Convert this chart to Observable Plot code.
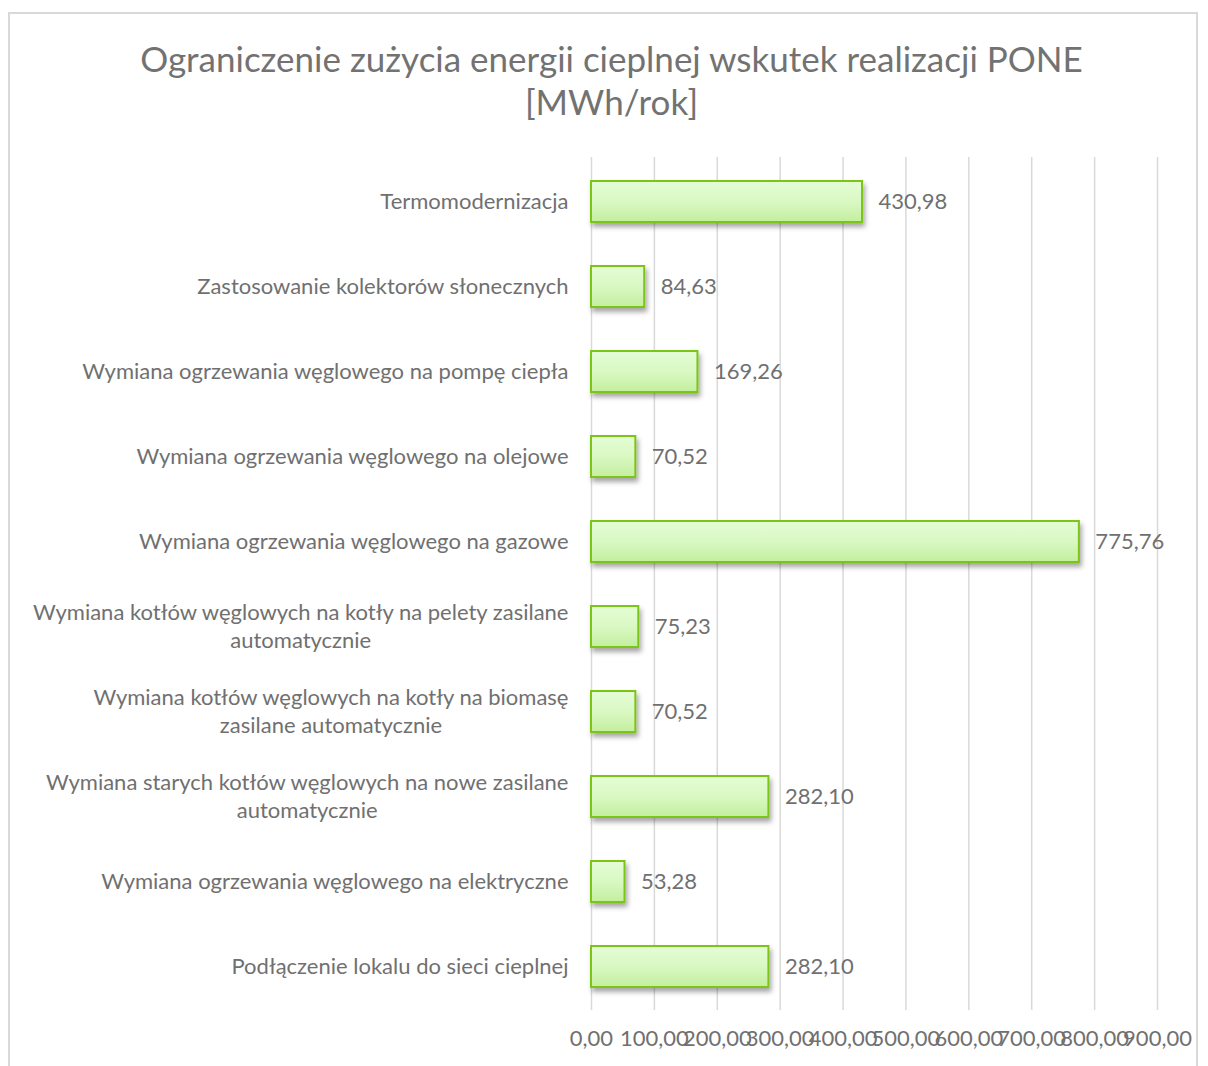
<!DOCTYPE html>
<html>
<head>
<meta charset="utf-8">
<script src="https://cdn.jsdelivr.net/npm/d3@7"></script>
<script src="https://cdn.jsdelivr.net/npm/@observablehq/plot@0.6"></script>
<style>
  html, body { margin: 0; padding: 0; background: #fff; }
  body { width: 1208px; height: 1066px; position: relative; overflow: hidden; font-family: Lato, sans-serif; }
  #frame { position: absolute; left: 8px; top: 12px; width: 1190px; height: 1100px; border: 2px solid #d9d9d9; box-sizing: border-box; }
  #title { position: absolute; left: 0; top: 37px; width: 1223px; text-align: center; font-size: 35px; line-height: 43px; color: #727272; }
  #chart { position: absolute; left: 0; top: 140px; }
</style>
</head>
<body>
<div id="frame"></div>
<div id="title">Ograniczenie zużycia energii cieplnej wskutek realizacji PONE<br>[MWh/rok]</div>
<div id="chart"></div>
<script>
const categories = [
  "Termomodernizacja",
  "Zastosowanie kolektorów słonecznych",
  "Wymiana ogrzewania węglowego na pompę ciepła",
  "Wymiana ogrzewania węglowego na olejowe",
  "Wymiana ogrzewania węglowego na gazowe",
  "Wymiana kotłów węglowych na kotły na pelety zasilane\nautomatycznie",
  "Wymiana kotłów węglowych na kotły na biomasę\nzasilane automatycznie",
  "Wymiana starych kotłów węglowych na nowe zasilane\nautomatycznie",
  "Wymiana ogrzewania węglowego na elektryczne",
  "Podłączenie lokalu do sieci cieplnej"
];
const values = [430.98, 84.63, 169.26, 70.52, 775.76, 75.23, 70.52, 282.10, 53.28, 282.10];
const xTicks = [0, 100, 200, 300, 400, 500, 600, 700, 800, 900];

const data = categories.map((c, i) => ({category: c, value: values[i]}));
const fmt = v => d3.format(".2f")(v).replace(".", ",");

const FS = 22;
const plot = Plot.plot({
  width: 1208,
  height: 926,
  marginLeft: 591,
  marginRight: 51,
  marginTop: 17,
  marginBottom: 56,
  style: {fontFamily: "Lato, sans-serif", fontSize: FS + "px", color: "#707070", background: "transparent"},
  x: {domain: [0, 900], ticks: xTicks},
  y: {domain: categories, paddingInner: 0.52, paddingOuter: 0.26},
  marks: [
    Plot.gridX(xTicks, {stroke: "#d9d9d9", strokeOpacity: 1, strokeWidth: 1.5}),
    Plot.barX(data, {x: "value", y: "category", fill: "url(#barGrad)", stroke: "#7cc414", strokeWidth: 2, className: "bars"}),
    Plot.text(data, {x: "value", y: "category", text: d => fmt(d.value), textAnchor: "start", dx: 16, fill: "#707070", fontSize: FS}),
    Plot.axisX(xTicks, {tickSize: 0, tickPadding: 20, tickFormat: fmt, label: null, fontSize: FS}),
    Plot.axisY({tickSize: 0, tickPadding: 23, dy: -2, label: null, fontSize: FS, lineHeight: 1.27, textOverflow: null, lineWidth: Infinity})
  ]
});

document.getElementById("chart").appendChild(plot);

const svg = d3.select(plot);
const defs = svg.insert("defs", ":first-child");
const grad = defs.append("linearGradient").attr("id", "barGrad").attr("x1", 0).attr("y1", 0).attr("x2", 0).attr("y2", 1);
grad.append("stop").attr("offset", "0%").attr("stop-color", "#e4fdd5");
grad.append("stop").attr("offset", "50%").attr("stop-color", "#d9f8c3");
grad.append("stop").attr("offset", "100%").attr("stop-color", "#c3ef9e");
const filt = defs.append("filter").attr("id", "barShadow").attr("x", "-10%").attr("y", "-30%").attr("width", "130%").attr("height", "180%");
filt.append("feDropShadow").attr("dx", 2).attr("dy", 4).attr("stdDeviation", 2.5).attr("flood-color", "#000").attr("flood-opacity", 0.35);
svg.selectAll("g.bars").attr("filter", "url(#barShadow)");

// center continuation lines of multi-line y-axis labels under the first line
svg.selectAll("g[aria-label='y-axis tick label'] text").each(function() {
  const tspans = this.querySelectorAll("tspan");
  if (tspans.length < 2) return;
  const w1 = tspans[0].getComputedTextLength();
  for (let i = 1; i < tspans.length; i++) {
    const w = tspans[i].getComputedTextLength();
    const x0 = parseFloat(tspans[i].getAttribute("x") || 0);
    tspans[i].setAttribute("x", x0 - (w1 - w) / 2);
  }
});
</script>
</body>
</html>
